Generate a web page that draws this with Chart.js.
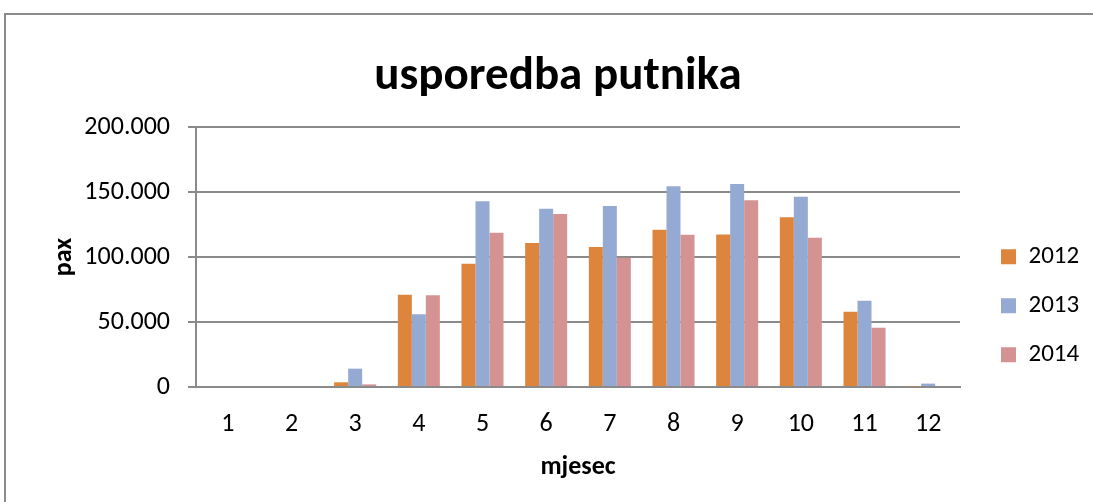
<!DOCTYPE html>
<html>
<head>
<meta charset="utf-8">
<script src="https://cdn.jsdelivr.net/npm/chart.js@4.4.0/dist/chart.umd.min.js"></script>
<style>
    body { margin: 0; background: #fff; overflow: hidden; }
    #frame { position: absolute; left: 4px; top: 13px; width: 1200px; height: 600px; border: 2px solid #8a8a8a; }
    #chart { position: absolute; left: 0; top: 0; }
</style>
</head>
<body>
<div id="frame"></div>
<canvas id="chart" width="1093" height="502"></canvas>
<script>
const months = ['1', '2', '3', '4', '5', '6', '7', '8', '9', '10', '11', '12'];
const pax2012 = [null, null, 3600, 71000, 94900, 110800, 107700, 121000, 117400, 130500, 57900, 500];
const pax2013 = [null, null, 14100, 55900, 142800, 137200, 139200, 154400, 156100, 146400, 66400, 2600];
const pax2014 = [null, null, 2000, 70500, 118700, 133100, 99500, 117200, 143600, 114900, 45600, null];
const yTicks = [0, 50000, 100000, 150000, 200000];

const FONT = 'Carlito, Lato, sans-serif';
const GRID = '#8a8a8a';

// pomak legende, kao u Excelu
const legendShift = {
    id: 'legendShift',
    afterLayout(chart) {
        const lg = chart.legend;
        if (!lg) return;
        lg.left += 17;
        lg.right += 17;
        lg.top += 40;
        lg.bottom += 40;
    }
};

const ctx = document.getElementById('chart').getContext('2d');
new Chart(ctx, {
    type: 'bar',
    data: {
        labels: months,
        datasets: [
            { label: '2012', data: pax2012, backgroundColor: 'rgb(221,132,61)' },
            { label: '2013', data: pax2013, backgroundColor: 'rgb(149,170,210)' },
            { label: '2014', data: pax2014, backgroundColor: 'rgb(212,146,146)' }
        ]
    },
    options: {
        responsive: false,
        animation: false,
        categoryPercentage: 0.66,
        barPercentage: 1,
        layout: { padding: { left: 48.5, top: 49, right: 25.5, bottom: 19.4 } },
        plugins: {
            title: {
                display: true,
                text: 'usporedba putnika',
                color: '#000',
                font: { family: FONT, size: 47, weight: 'bold' },
                padding: { top: 0, bottom: 21.6 }
            },
            legend: {
                position: 'right',
                maxWidth: 107.5,
                labels: {
                    color: '#000',
                    font: { family: FONT, size: 25 },
                    boxWidth: 15,
                    boxHeight: 15,
                    padding: 24
                }
            },
            tooltip: { enabled: false }
        },
        scales: {
            x: {
                grid: { display: false, drawTicks: false },
                border: { display: true, color: GRID, width: 2 },
                ticks: { color: '#000', font: { family: FONT, size: 26 }, padding: 22 },
                title: {
                    display: true,
                    text: 'mjesec',
                    color: '#000',
                    font: { family: FONT, size: 26, weight: 'bold' },
                    padding: 0
                },
                afterFit(scale) { scale.height = 95.6; }
            },
            y: {
                min: 0,
                max: 200000,
                afterBuildTicks(scale) { scale.ticks = yTicks.map(v => ({ value: v })); },
                grid: { color: GRID, lineWidth: 2, tickLength: 8 },
                border: { display: true, color: GRID, width: 2 },
                ticks: {
                    color: '#000',
                    font: { family: FONT, size: 26 },
                    padding: 18,
                    callback: v => v.toLocaleString('de-DE')
                },
                title: {
                    display: true,
                    text: 'pax',
                    color: '#000',
                    font: { family: FONT, size: 26, weight: 'bold' },
                    padding: 0
                },
                afterFit(scale) { scale.width = 196 - 48.5; }
            }
        }
    },
    plugins: [legendShift]
});
</script>
</body>
</html>
